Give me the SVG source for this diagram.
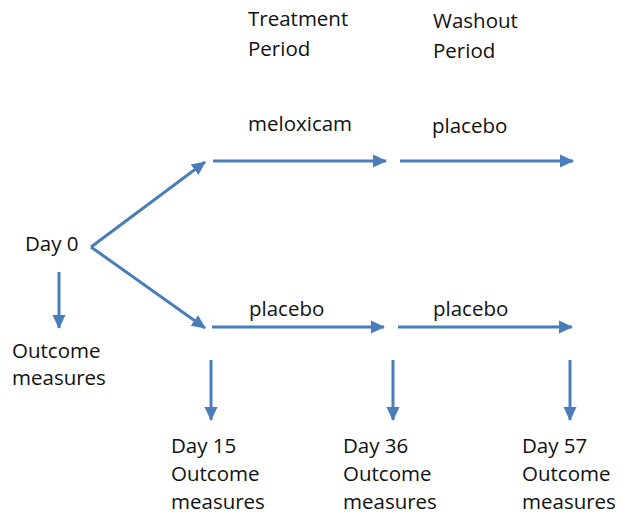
<svg xmlns="http://www.w3.org/2000/svg" width="626" height="521" viewBox="0 0 626 521">
<style>
text{font-family:"Open Sans","Liberation Sans",sans-serif;font-size:20.5px;fill:#111111}
.c{stroke:#4a7ebb;stroke-width:3;fill:none;marker-end:url(#ah)}
</style>
<defs>
<marker id="ah" markerUnits="userSpaceOnUse" markerWidth="15" markerHeight="15" viewBox="0 0 15 15" refX="13" refY="7.5" orient="auto">
<path d="M0,1 L14,7.5 L0,14 Z" fill="#4a7ebb"/>
</marker>
</defs>
<rect width="626" height="521" fill="#ffffff"/>
<g id="header-treatment"><text x="248" y="26">Treatment</text><text x="248" y="56">Period</text></g>
<g id="header-washout"><text x="433" y="28">Washout</text><text x="433" y="58">Period</text></g>
<g id="label-meloxicam"><text x="248" y="131">meloxicam</text></g>
<g id="label-placebo-1"><text x="432" y="133">placebo</text></g>
<g id="label-placebo-2"><text x="249" y="316">placebo</text></g>
<g id="label-placebo-3"><text x="433" y="316">placebo</text></g>
<g id="day0"><text x="25" y="251">Day 0</text></g>
<g id="outcome0"><text x="12" y="358">Outcome</text><text x="12" y="385">measures</text></g>
<g id="day15"><text x="171" y="453">Day 15</text><text x="171" y="481">Outcome</text><text x="171" y="509">measures</text></g>
<g id="day36"><text x="343" y="453">Day 36</text><text x="343" y="481">Outcome</text><text x="343" y="509">measures</text></g>
<g id="day57"><text x="522" y="453">Day 57</text><text x="522" y="481">Outcome</text><text x="522" y="509">measures</text></g>
<g id="connectors">
<line class="c" x1="91" y1="247" x2="205" y2="162"/>
<line class="c" x1="91" y1="247" x2="205" y2="328"/>
<line class="c" x1="59" y1="272" x2="59" y2="328"/>
<line class="c" x1="213" y1="161" x2="386" y2="161"/>
<line class="c" x1="400" y1="161" x2="573" y2="161"/>
<line class="c" x1="212" y1="327" x2="384" y2="327"/>
<line class="c" x1="398" y1="327" x2="572" y2="327"/>
<line class="c" x1="211" y1="360" x2="211" y2="420"/>
<line class="c" x1="393" y1="360" x2="393" y2="420"/>
<line class="c" x1="570" y1="360" x2="570" y2="420"/>
</g>
</svg>
